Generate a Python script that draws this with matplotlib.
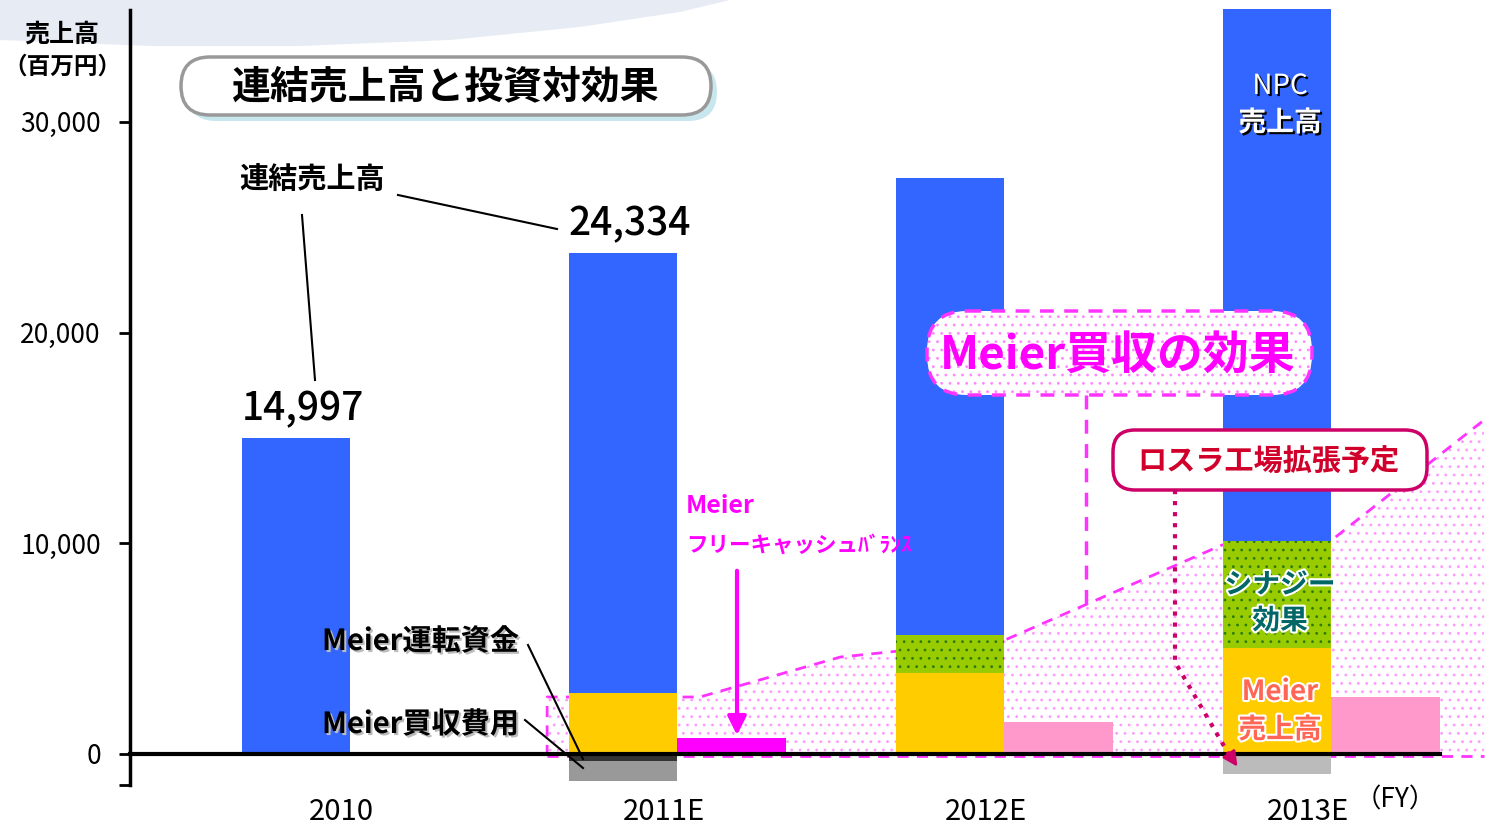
import numpy as np
import matplotlib.pyplot as plt
import matplotlib.patheffects as pe
from matplotlib.patches import FancyBboxPatch, Polygon

plt.rcParams['font.family'] = ['Noto Sans CJK JP', 'DejaVu Sans']
plt.rcParams['hatch.linewidth'] = 0.8

# data (百万円)
years = ['2010', '2011E', '2012E', '2013E']
meier_sales = [0, 2900, 3840, 5030]
synergy = [0, 0, 1810, 5080]
npc_sales = [14997, 20900, 21690, 25250]
side_vals = [0, 760, 1520, 2700]
acq_cost = [0, -1300, 0, -950]
working_cap = [0, -330, 0, 0]
total_labels = ['14,997', '24,334']

# Meier買収の効果 area (category units / 百万円)
effect_x = [0.768, 1.235, 1.664, 2.168, 2.832, 3.168, 3.633]
effect_y = [2705, 2705, 4600, 5410, 9920, 10160, 15850]
effect_base = -95

yticks = [0, 10000, 20000, 30000]

fig = plt.figure(figsize=(14.94, 8.25), dpi=100)

# background swoosh
bg = fig.add_axes([0, 0, 1, 1], zorder=-1)
bg.set_xlim(0, 1494)
bg.set_ylim(825, 0)
bg.axis('off')
bg.add_patch(Polygon([(0, 0), (0, 40), (150, 46), (300, 46), (450, 40),
                      (580, 27), (680, 12), (730, 0)],
                     closed=True, fc='#e7ecf4', ec='none'))

ax = fig.add_axes([0, 0, 1, 1], zorder=0)
ax.set_facecolor('none')
px_per = 21.07 / 1000
ax.set_xlim((0 - 296) / 327, (1494 - 296) / 327)
ax.set_ylim(-(825 - 754) / px_per, 754 / px_per)
spine_x = (130 - 296) / 327

x = np.arange(len(years))
w = 0.333
meier = np.array(meier_sales)
syn = np.array(synergy)

# effect area
ex = [effect_x[0]] + effect_x + [effect_x[-1]]
ey = [effect_base] + effect_y + [effect_base]
ax.add_patch(Polygon(list(zip(ex, ey)), closed=True, fc='white',
                     ec='#ff99ff', lw=0, hatch='..', zorder=1))
ax.plot([effect_x[0]] + effect_x, [effect_base] + effect_y,
        color='#ff33ff', ls=(0, (4, 3)), lw=2, zorder=2)
ax.plot([effect_x[0], effect_x[-1]], [effect_base, effect_base],
        color='#ff33ff', ls=(0, (4, 3)), lw=2, zorder=2)

ax.bar(x, meier, w, color='#ffcc00', zorder=3)
ax.bar(x, syn, w, bottom=meier, color='#99cc00', hatch='..',
       edgecolor='#2f7a10', lw=0, zorder=3)
ax.bar(x, npc_sales, w, bottom=meier + syn, color='#3366ff', zorder=3)
side_colors = ['none', '#ff00ff', '#ff99cc', '#ff99cc']
ax.bar(x + w, side_vals, w, color=side_colors, zorder=3)
ax.bar(x, acq_cost, w, color=['none', '#999999', 'none', '#bbbbbb'], zorder=3)
ax.bar(x, working_cap, w, color='#333333', zorder=3)

ax.plot([spine_x, 3 + 1.5 * w], [0, 0], color='black', lw=3, zorder=4)

tops = meier + syn + np.array(npc_sales)
for i, lab in enumerate(total_labels):
    ax.text(i + 0.02, tops[i] + 1350, lab, ha='center', va='center',
            fontsize=28, fontweight='medium')

for i, yr in enumerate(years):
    ax.text(0.14 + i * 0.985, -2750, yr, ha='center', va='center', fontsize=21)

for s in ['top', 'right', 'bottom']:
    ax.spines[s].set_visible(False)
ax.spines['left'].set_position(('data', spine_x))
ax.spines['left'].set_linewidth(2.5)
ax.spines['left'].set_bounds(-1470, 35300)
ax.set_xticks([])
ax.set_yticks(yticks, [f'{v:,}' for v in yticks])
ax.set_yticks([-1470], minor=True)
ax.tick_params(axis='y', which='both', direction='out', length=8, width=2,
               labelsize=19, pad=13)

# overlay for annotations (pixel coordinates)
ov = fig.add_axes([0, 0, 1, 1], zorder=5)
ov.set_xlim(0, 1494)
ov.set_ylim(825, 0)
ov.axis('off')
ov.patch.set_alpha(0)

ov.text(62, 35, '売上高', ha='center', va='center', fontsize=18, fontweight='bold')
ov.text(62, 67, '（百万円）', ha='center', va='center', fontsize=17, fontweight='bold')

ov.add_patch(FancyBboxPatch((187, 63), 530, 58, boxstyle='round,pad=0,rounding_size=29',
                            fc='#c8e6ee', ec='none'))
ov.add_patch(FancyBboxPatch((181, 57), 530, 58, boxstyle='round,pad=0,rounding_size=29',
                            fc='white', ec='#999999', lw=2.5))
ov.text(446, 87, '連結売上高と投資対効果', ha='center', va='center',
        fontsize=28, fontweight='bold')

ov.text(312, 180, '連結売上高', ha='center', va='center', fontsize=21, fontweight='bold')
ov.plot([302, 315], [215, 380], color='black', lw=1.5)
ov.plot([398, 557], [195, 229], color='black', lw=1.5)

shadow = [pe.SimplePatchShadow(offset=(1.5, -1.5), shadow_rgbFace='#bbbbbb', alpha=1),
          pe.Normal()]
ov.text(322, 641, 'Meier運転資金', ha='left', va='center', fontsize=21,
        fontweight='bold', path_effects=shadow)
ov.text(322, 724, 'Meier買収費用', ha='left', va='center', fontsize=21,
        fontweight='bold', path_effects=shadow)
ov.plot([528, 583], [645, 759], color='black', lw=1.5)
ov.plot([525, 583], [720, 768], color='black', lw=1.5)

ov.text(686, 506, 'Meier', ha='left', va='center', fontsize=18,
        fontweight='bold', color='#ff00ff')
ov.text(686, 545, 'フリーキャッシュﾊﾞﾗﾝｽ', ha='left', va='center', fontsize=15.5,
        fontweight='bold', color='#ff00ff')
ov.annotate('', xy=(737, 738), xytext=(737, 568),
            arrowprops=dict(arrowstyle='-|>', color='#ff00ff', lw=3, mutation_scale=28))

# Meier買収の効果 box
ov.plot([1086, 1086], [395, 612], color='#ff33ff', ls=(0, (4, 3)), lw=2.5)
ov.add_patch(FancyBboxPatch((927, 311), 385, 84, boxstyle='round,pad=0,rounding_size=40',
                            fc='white', ec='#ff88ff', lw=0, hatch='..'))
ov.add_patch(FancyBboxPatch((927, 311), 385, 84, boxstyle='round,pad=0,rounding_size=40',
                            fc='none', ec='#ff33ff', lw=2.5, ls=(0, (4, 3))))
ov.text(1118, 357, 'Meier買収の効果', ha='center', va='center', fontsize=33,
        fontweight='bold', color='#ff00ff')

# ロスラ box
ov.plot([1175, 1175, 1231], [490, 662, 758], color='#cc0066', ls=':', lw=3)
ov.annotate('', xy=(1239, 769), xytext=(1229, 754),
            arrowprops=dict(arrowstyle='-|>', color='#cc0066', lw=2, mutation_scale=22))
ov.add_patch(FancyBboxPatch((1113, 430), 314, 60, boxstyle='round,pad=0,rounding_size=22',
                            fc='white', ec='#cc0066', lw=2.5))
ov.text(1268, 462, 'ロスラ工場拡張予定', ha='center', va='center', fontsize=21,
        fontweight='bold', color='#d0002a')

# labels inside the 2013E bar
npc_fx = [pe.SimplePatchShadow(offset=(1.5, -1.5), shadow_rgbFace='black', alpha=1),
          pe.Normal()]
ov.text(1280, 86, 'NPC', ha='center', va='center', fontsize=20, color='white',
        path_effects=npc_fx)
ov.text(1280, 123, '売上高', ha='center', va='center', fontsize=20, color='white',
        fontweight='bold', path_effects=npc_fx)
syn_fx = [pe.withStroke(linewidth=3, foreground='white')]
ov.text(1280, 585, 'シナジー', ha='center', va='center', fontsize=20,
        fontweight='bold', color='#006666', path_effects=syn_fx)
ov.text(1280, 621, '効果', ha='center', va='center', fontsize=20,
        fontweight='bold', color='#006666', path_effects=syn_fx)
ov.text(1280, 692, 'Meier', ha='center', va='center', fontsize=20,
        fontweight='bold', color='#ff6655', path_effects=syn_fx)
ov.text(1280, 730, '売上高', ha='center', va='center', fontsize=20,
        fontweight='bold', color='#ff6655', path_effects=syn_fx)

ov.text(1395, 800, '（FY）', ha='center', va='center', fontsize=19)

fig.savefig('out.png', dpi=100)
